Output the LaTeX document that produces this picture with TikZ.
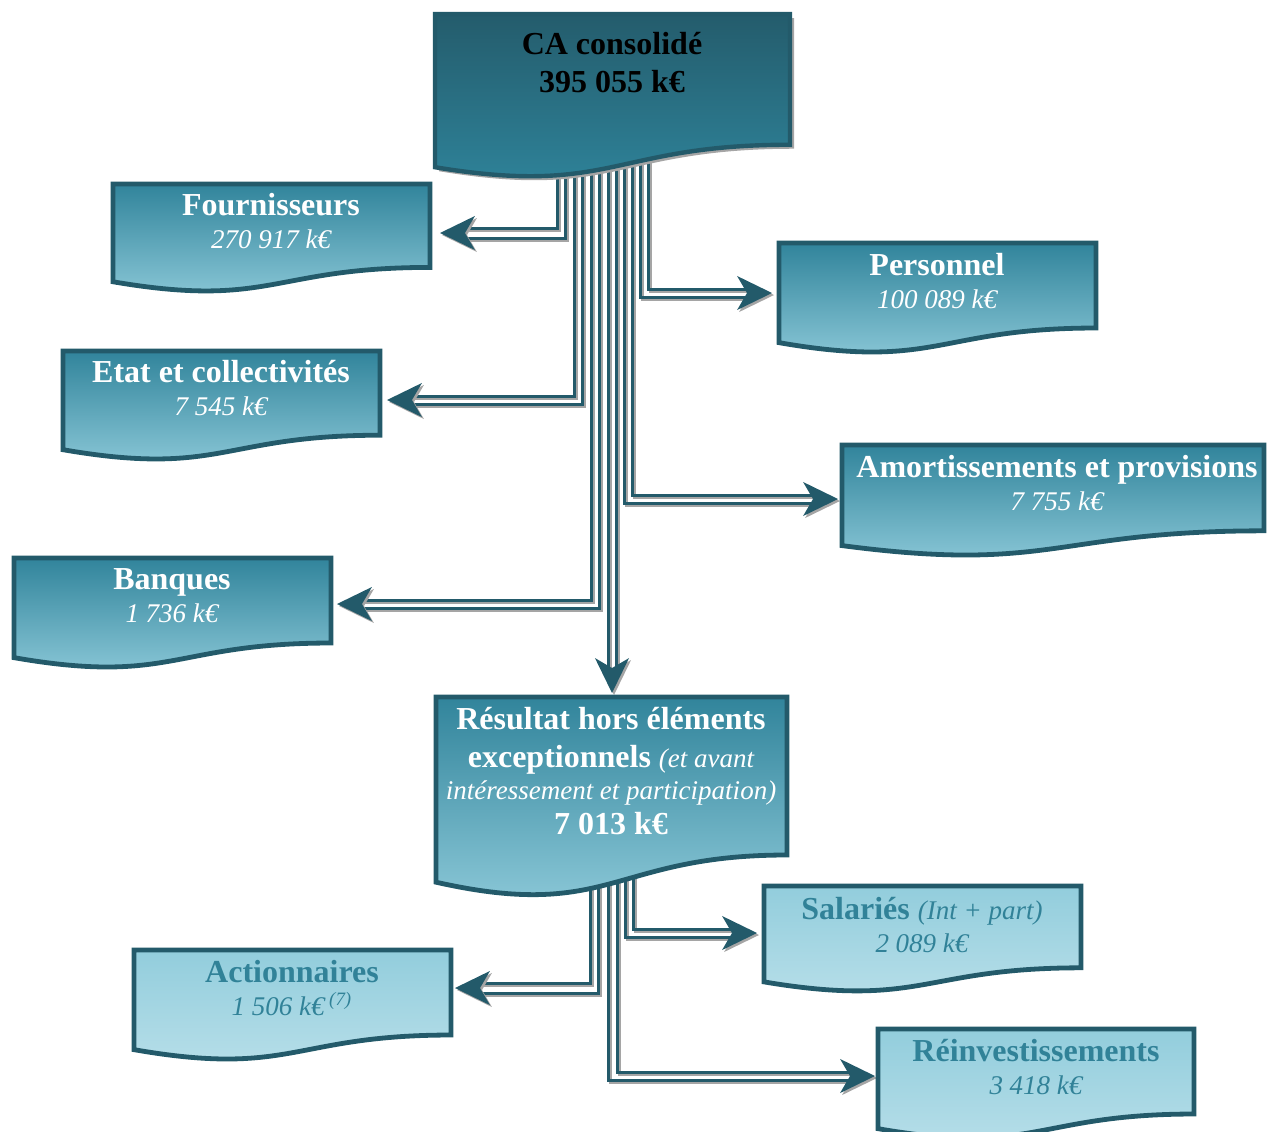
\documentclass[tikz,border=0pt]{standalone}
\usepackage{fontspec}
\setmainfont{Liberation Serif}
\usetikzlibrary{calc}
\definecolor{dark}{RGB}{35,90,106}
\definecolor{shadowgray}{RGB}{165,165,165}
\definecolor{catop}{RGB}{36,92,108}
\definecolor{cabot}{RGB}{47,133,156}
\definecolor{midtop}{RGB}{49,132,155}
\definecolor{midbot}{RGB}{146,205,220}
\definecolor{lowtop}{RGB}{146,205,220}
\definecolor{lowbot}{RGB}{186,224,234}
\definecolor{tealtext}{RGB}{49,130,152}
\pgfdeclarelayer{back}
\pgfsetlayers{back,main}
% x, y, w, h, lower control factor
\newcommand\docpath[5]{(#1,#2) -- ({#1+#3},#2) -- ({#1+#3},{#2+0.802*#4}) .. controls ({#1+0.5*#3},{#2+0.802*#4}) and ({#1+0.5*#3},{#2+#5*#4}) .. (#1,{#2+0.94*#4}) -- cycle}
\newcommand\docbox[7]{%
  \path[#6] \docpath{#2}{#3}{#4}{#5}{#7};
  \node[inner sep=0pt, minimum width={#4*0.5pt}, minimum height={0.802*#5*0.5pt}, anchor=north west] (#1) at (#2,#3) {};
}
\newcommand\wire[1]{\draw[shad] #1; \draw[wire] #1;}
\newcommand\ahead[2]{%
  \fill[shadowgray, transform canvas={shift={(2,2)}}] (#1) -- ($(#1)+({#2+154}:38.9)$) -- ($(#1)+({#2+180}:25)$) -- ($(#1)+({#2+206}:38.9)$) -- cycle;
  \fill[dark] (#1) -- ($(#1)+({#2+154}:38.9)$) -- ($(#1)+({#2+180}:25)$) -- ($(#1)+({#2+206}:38.9)$) -- cycle;
}
\newcommand\val[1]{{\fontsize{13.5}{16.5}\selectfont\mdseries\itshape #1}}
\begin{document}
\begin{tikzpicture}[x=0.5pt,y=-0.5pt,
  shad/.style={line width=1.5pt, draw=shadowgray, transform canvas={shift={(2,2)}}},
  wire/.style={line width=1.5pt, draw=dark},
  topbox/.style={draw=dark, line width=2.2pt, top color=catop, bottom color=cabot},
  midbox/.style={draw=dark, line width=2.4pt, top color=midtop, bottom color=midbot},
  lowbox/.style={draw=dark, line width=2.4pt, top color=lowtop, bottom color=lowbot},
  txt/.style={align=center, inner sep=0pt, font=\fontsize{16}{16.5}\selectfont\bfseries}]
\useasboundingbox (0,0) rectangle (1268,1131);
\clip (0,0) rectangle (1268,1131);

% boxes
\path[fill=shadowgray, transform canvas={shift={(4,4)}}] \docpath{435}{14}{355}{163}{1.12};
\docbox{ca}{435}{14}{355}{163}{topbox}{1.12}
\docbox{four}{113}{184}{317}{104}{midbox}{1.2}
\docbox{etat}{63}{351}{317}{105}{midbox}{1.2}
\docbox{banq}{14}{558}{317}{106}{midbox}{1.2}
\docbox{pers}{779}{243}{317}{106}{midbox}{1.2}
\docbox{amort}{842}{445}{422}{107}{midbox}{1.2}
\docbox{res}{436}{697}{351}{197}{midbox}{1.14}
\docbox{sal}{764}{886}{317}{102}{lowbox}{1.2}
\docbox{act}{134}{950}{317}{106}{lowbox}{1.2}
\docbox{rein}{878}{1029}{316}{106}{lowbox}{1.2}

% texts
\node[txt, text=black] (ca-t) at (612,63) {CA consolidé\\[2.5pt]395 055 k€};
\node[txt, text=white] (four-t) at (271,221.5) {Fournisseurs\\\val{270 917 k€}};
\node[txt, text=white] (etat-t) at (221,388.5) {Etat et collectivités\\\val{7 545 k€}};
\node[txt, text=white] (banq-t) at (172,595.5) {Banques\\\val{1 736 k€}};
\node[txt, text=white] (pers-t) at (937,281.5) {Personnel\\\val{100 089 k€}};
\node[txt, text=white] (amort-t) at (1057,483.5) {Amortissements et provisions\\\val{7 755 k€}};
\node[txt, text=white] (res-t) at (611,771.5) {Résultat hors éléments\\[2.5pt]exceptionnels \val{(et avant}\\[-0.5pt]\val{intéressement et participation)}\\[1pt]7 013 k€};
\node[txt, text=tealtext] (sal-t) at (922,924.5) {Salariés \val{(Int + part)}\\\val{2 089 k€}};
\node[txt, text=tealtext] (act-t) at (292,988.5) {Actionnaires\\\val{1 506 k€\,\textsuperscript{(7)}}};
\node[txt, text=tealtext] (rein-t) at (1036,1066.5) {Réinvestissements\\\val{3 418 k€}};

% arrow tips
\coordinate (tFour) at (440,233);
\coordinate (tEtat) at (387,400);
\coordinate (tBanq) at (337,604);
\coordinate (tRes) at (612,693);
\coordinate (tAmort) at (838,499);
\coordinate (tPers) at (772,293);
\coordinate (tAct) at (455,988);
\coordinate (tRein) at (875,1076);
\coordinate (tSal) at (757,933);

\begin{pgfonlayer}{back}
\wire{(557,140) |- ($(tFour)+(26,-5)$)}
\wire{(565,140) |- ($(tFour)+(26,5)$)}
\wire{(574,140) |- ($(tEtat)+(26,-4)$)}
\wire{(582,140) |- ($(tEtat)+(26,4)$)}
\wire{(591,140) |- ($(tBanq)+(26,-4)$)}
\wire{(599,140) |- ($(tBanq)+(26,4)$)}
\wire{(608,140) -- ($(tRes)+(-4,-26)$)}
\wire{(616,140) -- ($(tRes)+(4,-26)$)}
\wire{(632,140) |- ($(tAmort)+(-26,-4)$)}
\wire{(624,140) |- ($(tAmort)+(-26,4)$)}
\wire{(648,140) |- ($(tPers)+(-26,-4)$)}
\wire{(640,140) |- ($(tPers)+(-26,4)$)}
\wire{(590,860) |- ($(tAct)+(26,-5)$)}
\wire{(598,860) |- ($(tAct)+(26,5)$)}
\wire{(617,860) |- ($(tRein)+(-26,-4)$)}
\wire{(608,860) |- ($(tRein)+(-26,4)$)}
\wire{(633,860) |- ($(tSal)+(-26,-4)$)}
\wire{(625,860) |- ($(tSal)+(-26,4)$)}
\ahead{tFour}{180}
\ahead{tEtat}{180}
\ahead{tBanq}{180}
\ahead{tRes}{90}
\ahead{tAmort}{0}
\ahead{tPers}{0}
\ahead{tAct}{180}
\ahead{tRein}{0}
\ahead{tSal}{0}
\end{pgfonlayer}
\end{tikzpicture}
\end{document}
